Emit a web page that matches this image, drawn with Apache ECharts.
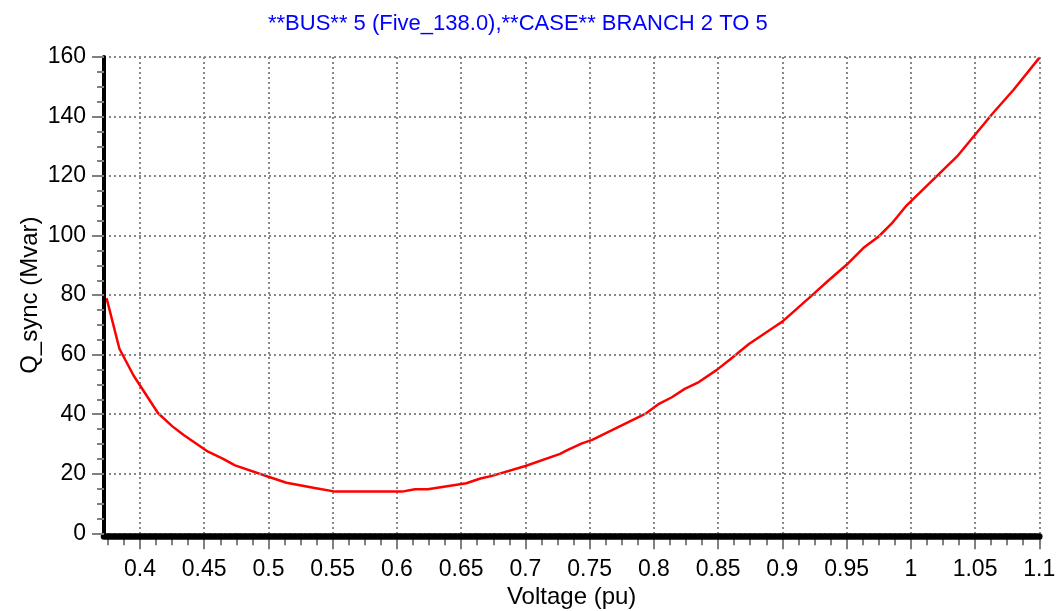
<!DOCTYPE html>
<html>
<head>
<meta charset="utf-8">
<script src="https://cdn.jsdelivr.net/npm/echarts@6/dist/echarts.min.js"></script>
<style>
html,body{margin:0;padding:0;background:#fff;}
#chart{width:1063px;height:611px;}
</style>
</head>
<body>
<div id="chart"></div>
<script>
// Data
const voltage = [0.374,0.384,0.395,0.414,0.425,0.434,0.453,0.464,0.474,0.500,0.514,0.536,0.552,0.604,0.614,0.624,0.654,0.665,0.674,0.700,0.727,0.733,0.744,0.752,0.794,0.804,0.814,0.824,0.835,0.849,0.859,0.874,0.894,0.900,0.925,0.935,0.950,0.963,0.975,0.985,0.996,1.036,1.050,1.064,1.080,1.100];
const qsync   = [79.0,62.0,53.0,40.4,36.0,33.0,27.4,25.2,22.8,19.0,17.0,15.2,14.0,14.0,14.8,14.8,16.8,18.4,19.3,22.6,26.7,28.0,30.2,31.4,40.3,43.5,45.7,48.5,50.8,54.9,58.3,63.6,69.4,71.1,80.7,84.6,90.2,95.8,99.7,104.0,109.8,126.6,133.9,141.2,149.0,159.7];
const xTicks = [0.4,0.45,0.5,0.55,0.6,0.65,0.7,0.75,0.8,0.85,0.9,0.95,1,1.05,1.1];
const xTickLabels = ['0.4','0.45','0.5','0.55','0.6','0.65','0.7','0.75','0.8','0.85','0.9','0.95','1','1.05','1.1'];
const yTicks = [0,20,40,60,80,100,120,140,160];
const titleText = '**BUS** 5 (Five_138.0),**CASE** BRANCH 2 TO 5';
const xName = 'Voltage (pu)';
const yName = 'Q_sync (Mvar)';

const xMin = 0.372, xMax = 1.1;
const xMinor = [];
for (let k = 0; k <= 58; k++) {
  const v = Math.round((0.375 + k * 0.0125) * 10000) / 10000;
  if (v > xMax + 1e-9) break;
  if (!xTicks.some(t => Math.abs(t - v) < 1e-6)) xMinor.push(v);
}
const labelMap = {};
xTicks.forEach((t, i) => { labelMap[t.toFixed(4)] = xTickLabels[i]; });

const FONT = 'Liberation Sans, Arial, sans-serif';
const chart = echarts.init(document.getElementById('chart'), null, {renderer: 'canvas'});
chart.setOption({
  animation: false,
  backgroundColor: '#ffffff',
  title: {
    text: titleText,
    left: 263, top: 8,
    textStyle: {color: '#0000ff', fontFamily: FONT, fontSize: 22, fontWeight: 'normal'}
  },
  grid: {left: 104, right: 23.7, top: 57, bottom: 77.7, containLabel: false, outerBoundsMode: 'none'},
  xAxis: [
    {
      type: 'value', min: xMin, max: xMax, splitNumber: 14, position: 'bottom', z: 1,
      name: xName, nameLocation: 'middle', nameGap: 52, nameMoveOverlap: false,
      nameTextStyle: {color: '#000', fontFamily: FONT, fontSize: 24},
      axisLine: {show: false},
      axisTick: {show: true, customValues: xTicks, length: 16, lineStyle: {color: '#808080', width: 2}},
      axisLabel: {show: true, customValues: xTicks, margin: 25, color: '#000', fontFamily: FONT, fontSize: 23,
        formatter: v => labelMap[Number(v).toFixed(4)] || ''},
      splitLine: {show: true, lineStyle: {color: '#888888', width: 2, type: [2, 3]}}
    },
    {
      type: 'value', min: xMin, max: xMax, position: 'bottom', z: 1,
      axisLine: {show: false},
      axisTick: {show: true, customValues: xMinor, length: 12, lineStyle: {color: '#808080', width: 2}},
      axisLabel: {show: false},
      splitLine: {show: false}
    },
    {
      type: 'value', min: xMin, max: xMax, position: 'bottom', offset: 2.5, z: 3,
      axisLine: {show: true, lineStyle: {color: '#000', width: 6.5}},
      axisTick: {show: false}, axisLabel: {show: false}, splitLine: {show: false}
    }
  ],
  yAxis: {
    type: 'value', min: 0, max: 160, interval: 20, z: 3,
    name: yName, nameLocation: 'middle', nameGap: 62, nameRotate: 90, nameMoveOverlap: false,
    nameTextStyle: {color: '#000', fontFamily: FONT, fontSize: 24},
    axisLine: {show: true, lineStyle: {color: '#000', width: 4}},
    axisTick: {show: true, length: 12, lineStyle: {color: '#808080', width: 2}},
    minorTick: {show: true, splitNumber: 4, length: 7, lineStyle: {color: '#808080', width: 2}},
    axisLabel: {margin: 18, color: '#000', fontFamily: FONT, fontSize: 23,
      formatter: v => (yTicks.indexOf(v) >= 0 ? String(v) : '')},
    splitLine: {show: true, lineStyle: {color: '#888888', width: 2, type: [2, 3]}}
  },
  series: [{
    type: 'line', xAxisIndex: 0, yAxisIndex: 0,
    data: voltage.map((v, i) => [v, qsync[i]]),
    showSymbol: false, symbol: 'none',
    lineStyle: {color: '#ff0000', width: 2.5},
    z: 2
  }]
});
</script>
</body>
</html>
